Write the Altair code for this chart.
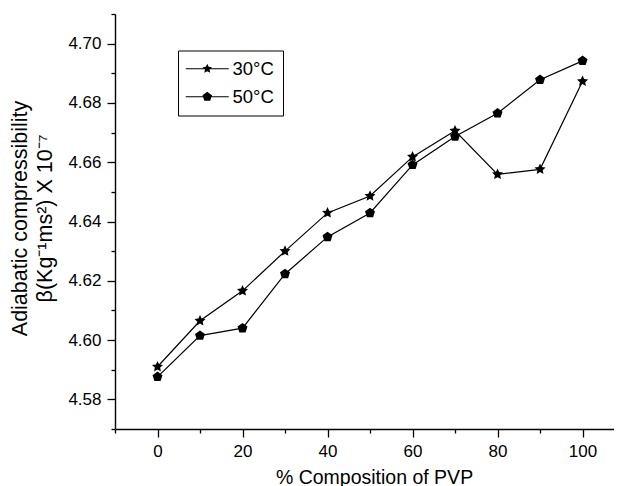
import math
import altair as alt
import pandas as pd

composition = [0, 10, 20, 30, 40, 50, 60, 70, 80, 90, 100]
beta_30 = [4.5910, 4.6065, 4.6166, 4.6300, 4.6429, 4.6486, 4.6618, 4.6706, 4.6559, 4.6576, 4.6873]
beta_50 = [4.5876, 4.6015, 4.6040, 4.6223, 4.6348, 4.6429, 4.6591, 4.6687, 4.6765, 4.6878, 4.6942]
series = ["30°C", "50°C"]

x_major = [0, 20, 40, 60, 80, 100]
x_minor = [-10, 10, 30, 50, 70, 90]
y_major = [4.58, 4.60, 4.62, 4.64, 4.66, 4.68, 4.70]
y_minor = [4.57, 4.59, 4.61, 4.63, 4.65, 4.67, 4.69, 4.71]

rows = []
for c, a, b in zip(composition, beta_30, beta_50):
    rows.append({"x": c, "y": a, "s": series[0]})
    rows.append({"x": c, "y": b, "s": series[1]})
df = pd.DataFrame(rows)


def poly(n, r_in=None):
    pts = []
    k = n * 2 if r_in else n
    for i in range(k):
        ang = math.radians(-90 + 360.0 / k * i)
        r = 1.0 if (r_in is None or i % 2 == 0) else r_in
        pts.append(f"{r * math.cos(ang):.3f},{r * math.sin(ang):.3f}")
    return "M" + "L".join(pts) + "Z"


star = poly(5, 0.48)
pent = poly(5)
seg = "M-4.3,-0.12H-0.4V0.12H-4.3ZM0.4,-0.12H4.3V0.12H0.4Z"

FONT = "Liberation Sans"

XDOM = [-10, 107.4]
YDOM = [4.57, 4.71]


def xs():
    return alt.Scale(domain=XDOM, nice=False, zero=False)


def ys():
    return alt.Scale(domain=YDOM, nice=False, zero=False)


common = dict(grid=False, domainColor="black", domainWidth=1.4,
              tickColor="black", tickWidth=1.3)

xaxis = alt.Axis(
    values=x_major, format="d", orient="bottom", tickSize=8,
    labelFontSize=17, labelFont=FONT, labelColor="black", labelPadding=6,
    labelOverlap=False, labelFlush=False,
    title="% Composition of PVP", titleFont=FONT, titleFontSize=19.5,
    titleFontWeight="normal", titleColor="black",
    titleX=259, titleY=54, titleBaseline="alphabetic", titleAlign="center",
    **common,
)
yaxis = alt.Axis(
    values=y_major, format=".2f", orient="left", tickSize=8,
    labelFontSize=17, labelFont=FONT, labelColor="black", labelPadding=6,
    labelOverlap=False, labelFlush=False,
    title=["Adiabatic compressibility", "β(Kg⁻¹ms²) X 10⁻⁷"],
    titleFont=FONT, titleFontSize=21.5, titleFontWeight="normal", titleColor="black",
    titleAngle=270, titleX=-89, titleY=204, titleBaseline="alphabetic",
    titleAlign="center", titleLineHeight=25.5,
    **common,
)
xaxis_minor = alt.Axis(values=x_minor, orient="bottom", tickSize=4, labels=False,
                       domain=False, title=None, grid=False, tickColor="black",
                       tickWidth=1.3)
yaxis_minor = alt.Axis(values=y_minor, orient="left", tickSize=4, labels=False,
                       domain=False, title=None, grid=False, tickColor="black",
                       tickWidth=1.3)

base = alt.Chart(df)

lines = base.mark_line(color="black", strokeWidth=1.2).encode(
    x=alt.X("x:Q", scale=xs(), axis=xaxis),
    y=alt.Y("y:Q", scale=ys(), axis=yaxis),
    detail="s:N",
)

points = base.mark_point(filled=True, color="black", opacity=1).encode(
    x=alt.X("x:Q", scale=xs(), axis=None),
    y=alt.Y("y:Q", scale=ys(), axis=None),
    shape=alt.Shape("s:N", scale=alt.Scale(domain=series, range=[star, pent]), legend=None),
    size=alt.Size("s:N", scale=alt.Scale(domain=series, range=[135, 110]), legend=None),
)

legend_layer = base.mark_point(filled=True, color="black", size=100, opacity=0).encode(
    x=alt.X("x:Q", scale=xs(), axis=xaxis_minor),
    y=alt.Y("y:Q", scale=ys(), axis=yaxis_minor),
    shape=alt.Shape(
        "s:N",
        scale=alt.Scale(domain=series, range=[seg + star, seg + pent]),
        legend=alt.Legend(
            title=None, orient="none", legendX=63, legendY=36.5,
            strokeColor="black", fillColor="white", padding=9,
            labelFont=FONT, labelFontSize=18.5, labelColor="black",
            symbolSize=100, symbolOffset=11, labelOffset=16, rowPadding=9,
            symbolFillColor="black", symbolStrokeColor="black",
            symbolStrokeWidth=0, symbolOpacity=1,
        ),
    ),
)

chart = alt.layer(lines, points, legend_layer).resolve_scale(
    shape="independent", size="independent", x="independent", y="independent"
).properties(
    width=499, height=415,
    autosize=alt.AutoSizeParams(type="none"),
    padding={"left": 107, "top": 6, "right": 0, "bottom": 58},
    background="white",
).configure_view(stroke=None)

chart.save("out.html", embed_options={"renderer": "svg", "actions": False})
